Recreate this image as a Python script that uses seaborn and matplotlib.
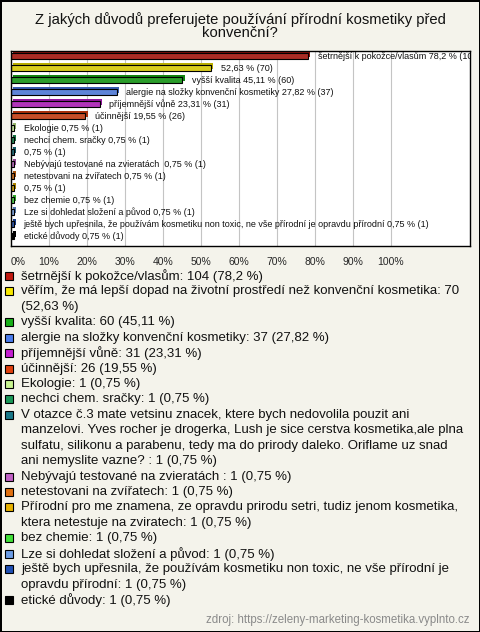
import textwrap
import numpy as np
import pandas as pd
import seaborn as sns
import matplotlib.pyplot as plt
import matplotlib.patheffects as pe
from matplotlib.patches import Rectangle
from matplotlib.colors import to_rgb

title = "Z jakých důvodů preferujete používání přírodní kosmetiky před\nkonvenční?"
source = "zdroj: https://zeleny-marketing-kosmetika.vyplnto.cz"

answers = [
    "šetrnější k pokožce/vlasům",
    "věřím, že má lepší dopad na životní prostředí než konvenční kosmetika",
    "vyšší kvalita",
    "alergie na složky konvenční kosmetiky",
    "příjemnější vůně",
    "účinnější",
    "Ekologie",
    "nechci chem. sračky",
    "V otazce č.3 mate vetsinu znacek, ktere bych nedovolila pouzit ani manzelovi. "
    "Yves rocher je drogerka, Lush je sice cerstva kosmetika,ale plna sulfatu, silikonu "
    "a parabenu, tedy ma do prirody daleko. Oriflame uz snad ani nemyslite vazne? ",
    "Nebývajú testované na zvieratách ",
    "netestovani na zvířatech",
    "Přírodní pro me znamena, ze opravdu prirodu setri, tudiz jenom kosmetika, ktera netestuje na zviratech",
    "bez chemie",
    "Lze si dohledat složení a původ",
    "ještě bych upřesnila, že používám kosmetiku non toxic, ne vše přírodní je opravdu přírodní",
    "etické důvody",
]
# label shown next to the bar (long answers show only the numbers)
bar_names = [
    "šetrnější k pokožce/vlasům", "", "vyšší kvalita",
    "alergie na složky konvenční kosmetiky", "příjemnější vůně", "účinnější",
    "Ekologie", "nechci chem. sračky", "", "Nebývajú testované na zvieratách ",
    "netestovani na zvířatech", "", "bez chemie", "Lze si dohledat složení a původ",
    "ještě bych upřesnila, že používám kosmetiku non toxic, ne vše přírodní je opravdu přírodní",
    "etické důvody",
]
counts = [104, 70, 60, 37, 31, 26, 1, 1, 1, 1, 1, 1, 1, 1, 1, 1]
percents = [78.2, 52.63, 45.11, 27.82, 23.31, 19.55,
            0.75, 0.75, 0.75, 0.75, 0.75, 0.75, 0.75, 0.75, 0.75, 0.75]
colors = ["#c0180e", "#f8e800", "#18b018", "#4a7cec", "#c41ed0", "#e0400e",
          "#c8f490", "#1a9858", "#1a7888", "#c060c4", "#e07010", "#e8b200",
          "#40e038", "#6c9ce4", "#2050b4", "#000000"]
ticks = [0, 10, 20, 30, 40, 50, 60, 70, 80, 90, 100]

bg = "#f4f3eb"
W, H = 480, 632


def fx(x):
    return x / W


def fy(y):
    return 1 - y / H


def fmt(p):
    return f"{p:g}".replace(".", ",")


df = pd.DataFrame({"answer": answers, "pct": percents})

sns.set_style("white")
plt.rcParams["font.family"] = ["Liberation Sans", "DejaVu Sans"]

fig = plt.figure(figsize=(4.8, 6.32), dpi=100, facecolor=bg)
fig.patch.set_edgecolor("black")
fig.patch.set_linewidth(2)

ax = fig.add_axes([fx(11), fy(246), fx(470 - 11), (246 - 51) / H])
sns.barplot(data=df, x="pct", y="answer", hue="answer", order=answers,
            palette=dict(zip(answers, colors)), orient="h", width=0.5,
            legend=False, ax=ax, edgecolor="black", linewidth=0.8)

for patch, c in zip(ax.patches, colors):
    dark = tuple(v * 0.75 for v in to_rgb(c))
    patch.set_path_effects([
        pe.SimplePatchShadow(offset=(1.6, 1.6), shadow_rgbFace=dark, alpha=1),
        pe.Normal(),
    ])

for i, (name, p, n) in enumerate(zip(bar_names, percents, counts)):
    txt = f"{name} {fmt(p)} % ({n})" if name else f"{fmt(p)} % ({n})"
    ax.annotate(txt, (p, i), xytext=(7, 0), textcoords="offset points",
                va="center", ha="left", fontsize=6.5, color="#111111",
                clip_on=True, annotation_clip=False)

ax.set_xlim(0, (470 - 11) / 3.8)
ax.set_ylim(len(answers) - 1 + 0.83, -0.42)
ax.set_xticks(ticks)
ax.set_xticklabels([f"{t}%" for t in ticks], fontsize=7.5)
ax.get_xticklabels()[0].set_horizontalalignment("left")
ax.set_yticks([])
ax.set_xlabel("")
ax.set_ylabel("")
ax.tick_params(axis="x", length=0, pad=8)
ax.grid(axis="x", color="#c4c4c4", linewidth=0.8)
ax.set_axisbelow(True)
ax.set_facecolor("white")
for s in ax.spines.values():
    s.set_color("black")
    s.set_linewidth(1)

fig.text(0.5, fy(26), title, ha="center", va="center", fontsize=10.6,
         linespacing=0.95, color="#111111")

# legend list below the chart
y = 276
step = 15.43
for name, p, n, c in zip(answers, percents, counts, colors):
    lines = textwrap.wrap(f"{name}: {n} ({fmt(p)} %)", width=75)
    fig.patches.append(Rectangle((fx(5), fy(y + 4)), fx(8), 8 / H,
                                 transform=fig.transFigure, facecolor=c,
                                 edgecolor="black", linewidth=0.8))
    for line in lines:
        fig.text(fx(21), fy(y), line, ha="left", va="center", fontsize=9.5,
                 color="#111111")
        y += step

fig.text(fx(470), fy(620), source, ha="right", va="center", fontsize=8.3,
         color="#8a8a8a")

fig.savefig("out.png", dpi=100, facecolor=bg, edgecolor="black")
